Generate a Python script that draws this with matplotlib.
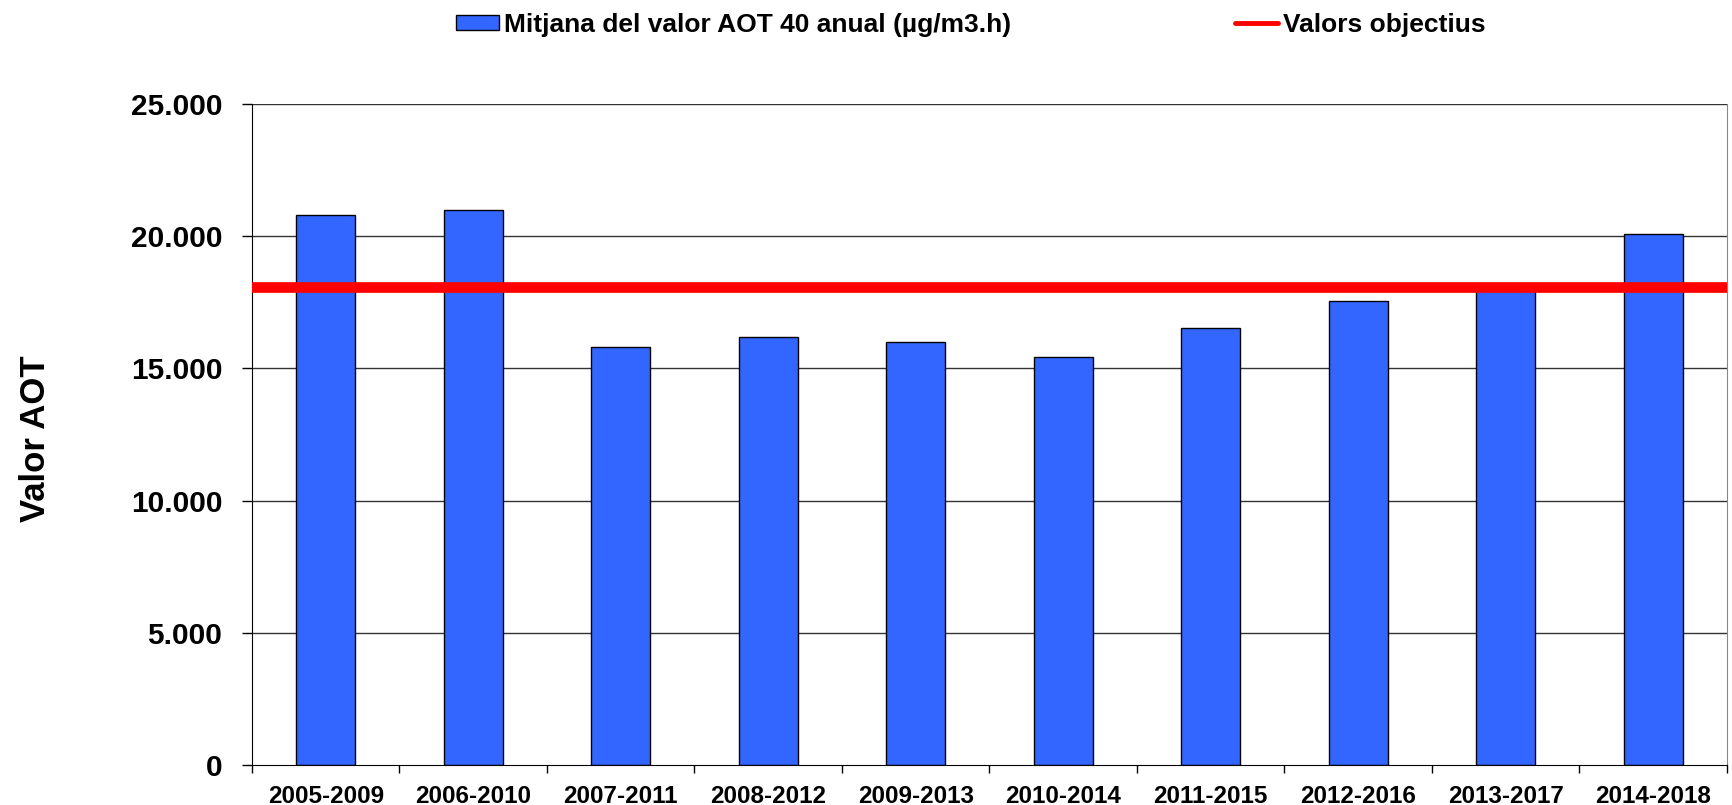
import matplotlib
matplotlib.use("Agg")
import matplotlib.pyplot as plt
from matplotlib.ticker import FixedLocator
from matplotlib.lines import Line2D

categories = ["2005-2009", "2006-2010", "2007-2011", "2008-2012", "2009-2013",
              "2010-2014", "2011-2015", "2012-2016", "2013-2017", "2014-2018"]
aot_values = [20780, 20990, 15800, 16180, 16010, 15430, 16510, 17560, 18000, 20060]
target_value = 18080
y_ticks = [0, 5000, 10000, 15000, 20000, 25000]
y_tick_labels = ["0", "5.000", "10.000", "15.000", "20.000", "25.000"]

plt.rcParams['font.family'] = ['Liberation Sans', 'DejaVu Sans']
plt.rcParams['font.weight'] = 'bold'

fig = plt.figure(figsize=(17.33, 8.05), dpi=100)
ax = fig.add_axes([0.1454, 0.0497, 0.8511, 0.8213])

x = list(range(len(categories)))
bars = ax.bar(x, aot_values, width=0.40, color="#3366FF", edgecolor="black",
              linewidth=1.0, zorder=2, label="Mitjana del valor AOT 40 anual (µg/m3.h)")
ax.axhline(target_value, color="#FF0000", linewidth=7.7, zorder=3)

ax.set_xlim(-0.5, len(categories) - 0.5)
ax.set_ylim(0, 25000)
ax.set_yticks(y_ticks)
ax.set_yticklabels(y_tick_labels, fontsize=21.5, fontweight='bold')
ax.set_xticks(x)
ax.set_xticklabels(categories, fontsize=17.5, fontweight='bold')
ax.tick_params(axis='x', which='major', length=0, pad=14.5)
ax.xaxis.set_minor_locator(FixedLocator([i - 0.5 for i in range(len(categories) + 1)]))
ax.tick_params(axis='x', which='minor', length=6, width=1, direction='out', color='black')
ax.tick_params(axis='y', which='major', length=7, width=1, direction='out', color='black', pad=14.4)

for v in y_ticks[1:]:
    ax.axhline(v, color="#333333", linewidth=1.0, zorder=1)

ax.spines['top'].set_visible(False)
ax.spines['right'].set_color("#888888")
ax.spines['left'].set_color("black")
ax.spines['bottom'].set_color("black")

ax.set_ylabel("Valor AOT", fontsize=25, fontweight='bold')
ax.yaxis.set_label_coords(-0.1356, 0.493)

line_handle = Line2D([0], [0], color="#FF0000", linewidth=3.5, solid_capstyle='round')
fig.legend(handles=[bars, line_handle], labels=["Mitjana del valor AOT 40 anual (µg/m3.h)", "Valors objectius"],
           loc='center', bbox_to_anchor=(0.5603, 0.969), ncol=2,
           frameon=False, prop={'weight': 'bold', 'size': 19},
           handlelength=1.63, handletextpad=0.17, columnspacing=8.5, handleheight=0.53,
           borderpad=0, borderaxespad=0)

fig.savefig("out.png", dpi=100)
